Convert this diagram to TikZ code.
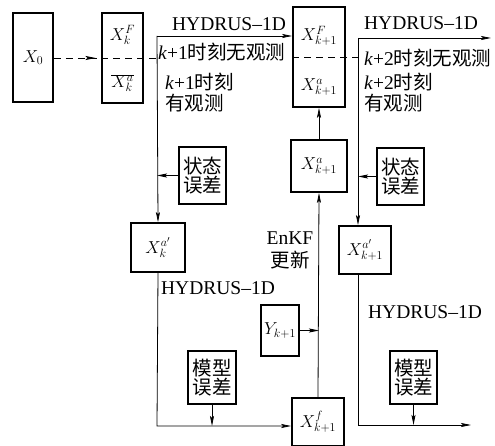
\documentclass[tikz,border=0pt]{standalone}
\usepackage{fontspec}
\setmainfont{Liberation Serif}
\newfontfamily\serifrm{Liberation Serif}
\newfontfamily\cjk{Noto Sans CJK SC}
\usetikzlibrary{arrows.meta,decorations.markings,calc}
\begin{document}
\begin{tikzpicture}[x=1pt,y=-1pt,
  box/.style={draw,line width=1.6pt,inner sep=0pt,font=\fontsize{18}{21}\selectfont},
  conn/.style={line width=0.8pt},
  arr/.style={conn,-{Stealth[length=10pt,width=4pt,inset=2pt]}},
  lbl/.style={inner sep=0pt,font=\fontsize{19.5}{22}\selectfont\serifrm},
  mlbl/.style={inner sep=0pt,font=\fontsize{18}{21}\selectfont},
  cbox/.style={box,font=\fontsize{19.5}{22}\selectfont\cjk,align=center},
  dashln/.style={conn,dash pattern=on 7pt off 5pt}]
\useasboundingbox (0,0) rectangle (495,446);
% boxes
\node[box,minimum width=40pt,minimum height=89pt] (x0) at (33,57.5) {$X_0$};
\node[box,minimum width=41pt,minimum height=90pt] (xk) at (122.5,58) {};
\node[mlbl] (xkF) at (122.5,35) {$X_k^F$};
\node[mlbl] (xka) at (122.5,83) {$\overline{X_k^a}$};
\node[box,minimum width=52pt,minimum height=100pt] (xk1) at (319,57) {};
\node[mlbl] (xk1F) at (319,36) {$X_{k+1}^F$};
\node[mlbl] (xk1a) at (319,87) {$X_{k+1}^a$};
\node[box,minimum width=56pt,minimum height=52pt] (xa1) at (319,166) {$X_{k+1}^a$};
\node[cbox,minimum width=47pt,minimum height=57pt] (err1) at (202.5,175.5) {状态\\[-3pt]误差};
\node[cbox,minimum width=47pt,minimum height=57pt] (err2) at (400.5,176.5) {状态\\[-3pt]误差};
\node[box,minimum width=54pt,minimum height=49pt] (xak) at (158,247.5) {$X_k^{a'}$};
\node[box,minimum width=52pt,minimum height=48pt] (xak1) at (365,250) {$X_{k+1}^{a'}$};
\node[box,minimum width=38pt,minimum height=51pt] (yk1) at (280,330.5) {$Y_{k+1}$};
\node[cbox,minimum width=48pt,minimum height=53pt] (merr1) at (212,377.5) {模型\\[-3pt]误差};
\node[cbox,minimum width=47pt,minimum height=53pt] (merr2) at (413.5,377.5) {模型\\[-3pt]误差};
\node[box,minimum width=52pt,minimum height=48pt] (xf) at (318,422) {$X_{k+1}^f$};
% coordinates
\coordinate (j1) at (157,58);
\coordinate (t1) at (157,36);
\coordinate (j2) at (358,57);
\coordinate (t2) at (358,38);
\coordinate (e1) at (491,38);
\coordinate (b1) at (157,426);
\coordinate (b2) at (358,425);
\coordinate (e2) at (471,425);
% dashed
\draw[dashln,postaction={decorate},decoration={markings,mark=at position 0.88 with {\arrow{Stealth[length=10pt,width=4pt,inset=2pt]}}}] (x0.east |- xk.west) -- (xk.west);
\draw[dashln] (xk.west) -- (j1);
\draw[dashln] (xk1.west) -- (j2);
% left branch
\draw[arr] (t1) -- (t1 -| xk1.west);
\draw[arr] (t1) -- (xak.north);
\draw[arr] (err1.west) -- (err1.west -| t1);
\draw[arr] (xak.south) -- (b1) -- (b1 -| xf.west);
\draw[arr] (merr1.south) -- (merr1.south |- b1);
% middle
\draw[arr] (xf.north) -- (xa1.south);
\draw[arr] (xa1.north) -- (xk1.south);
\draw[arr] (yk1.east) -- (yk1.east -| xa1.south);
% right branch
\draw[arr] (t2) -- (e1);
\draw[arr] (t2) -- (t2 |- xak1.north);
\draw[arr] (err2.west) -- (err2.west -| t2);
\draw[arr] (t2 |- xak1.south) -- (b2) -- (e2);
\draw[arr] (merr2.south) -- (merr2.south |- b2);
% labels
\node[lbl] (h1) at (229,24) {HYDRUS–1D};
\node[lbl,anchor=west] (n1) at (158,52) {\textit{k}+1{\cjk 时刻无观测}};
\node[lbl,anchor=west] (o1) at (165,82) {\textit{k}+1{\cjk 时刻}};
\node[lbl,anchor=west] (o1b) at (165,103) {\cjk 有观测};
\node[lbl] (h2) at (421,23) {HYDRUS–1D};
\node[lbl,anchor=west] (n2) at (364,58) {\textit{k}+2{\cjk 时刻无观测}};
\node[lbl,anchor=west] (o2) at (364,82) {\textit{k}+2{\cjk 时刻}};
\node[lbl,anchor=west] (o2b) at (364,103) {\cjk 有观测};
\node[lbl] (h3) at (218,288) {HYDRUS–1D};
\node[lbl] (h4) at (425,312) {HYDRUS–1D};
\node[lbl] (enkf) at (290,238) {EnKF};
\node[lbl] (gx) at (290,260) {\cjk 更新};
\end{tikzpicture}
\end{document}
